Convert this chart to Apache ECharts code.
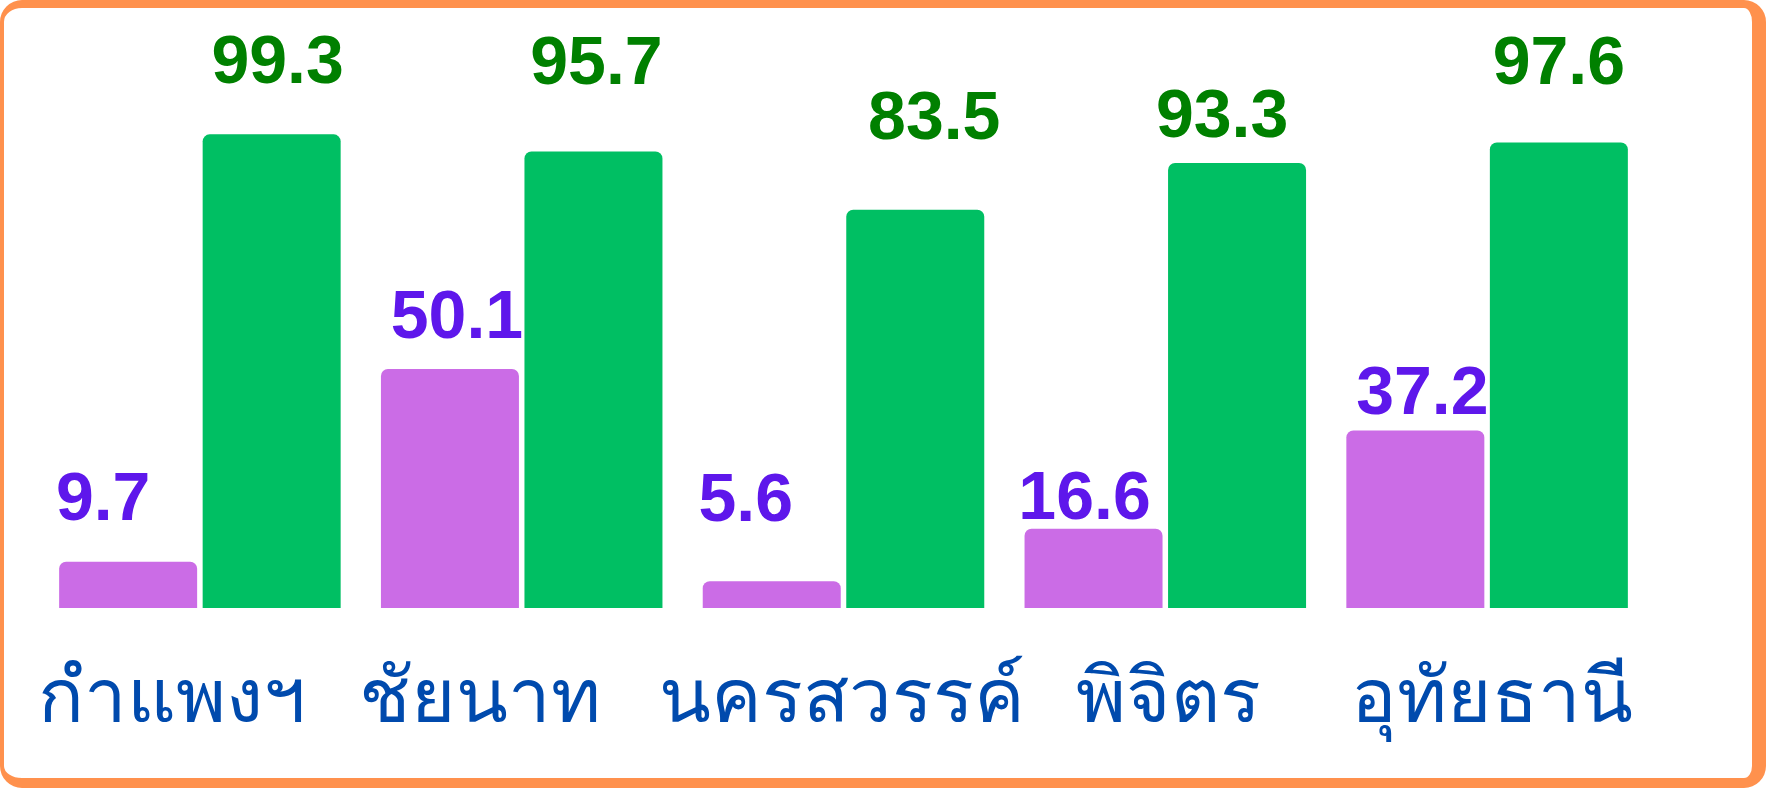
<!DOCTYPE html>
<html>
<head>
<meta charset="utf-8">
<script src="https://cdn.jsdelivr.net/npm/echarts@6/dist/echarts.min.js"></script>
<style>
  html, body { margin: 0; padding: 0; background: #fff; }
  #frame {
    position: absolute; left: 0; top: 0;
    width: 1766px; height: 788px;
    box-sizing: border-box;
    border-style: solid;
    border-color: #FF914D;
    border-width: 8px 14px 10px 4px;
    border-radius: 22px;
    background: #fff;
  }
  #chart { position: absolute; left: 0; top: 0; width: 1766px; height: 788px; }
</style>
</head>
<body>
<div id="frame"></div>
<div id="chart"></div>
<script>
const provinces = ['กำแพงฯ', 'ชัยนาท', 'นครสวรรค์', 'พิจิตร', 'อุทัยธานี']
const purpleValues = [9.7, 50.1, 5.6, 16.6, 37.2]
const greenValues = [99.3, 95.7, 83.5, 93.3, 97.6]

// label nudges (px) to follow the hand-placed labels of the original
const purpleLabelShift = [[-25, -26], [7, -16], [-26, -45], [-9, 5], [7, -1]]
const greenLabelShift = [[6, -36], [3, -52], [19, -55], [-15, -11], [0, -43]]
const provinceShift = [-28, -42, -2, 3, 5]

const chart = echarts.init(document.getElementById('chart'))

function withLabels(values, shifts) {
  return values.map((v, i) => ({
    value: v,
    label: { offset: shifts[i] }
  }))
}

const labelFont = {
  show: true,
  position: 'top',
  distance: 0,
  fontFamily: 'Liberation Sans',
  fontWeight: 'bold',
  fontSize: 68
}

const option = {
  animation: false,
  grid: { left: 39, right: 118, top: 131, bottom: 180, containLabel: false },
  xAxis: {
    type: 'category',
    data: provinces.map((p, i) => {
      const s = provinceShift[i]
      return {
        value: p,
        textStyle: { padding: s < 0 ? [0, -2 * s, 0, 0] : [0, 0, 0, 2 * s] }
      }
    }),
    axisLine: { show: false },
    axisTick: { show: false },
    axisLabel: {
      interval: 0,
      hideOverlap: false,
      color: '#004AAD',
      fontSize: 76,
      margin: 54,
      fontFamily: 'Noto Sans'
    }
  },
  yAxis: {
    type: 'value',
    min: 0,
    max: 100,
    show: false,
    splitLine: { show: false }
  },
  series: [
    {
      type: 'bar',
      data: withLabels(purpleValues, purpleLabelShift),
      barWidth: 138,
      barGap: '4%',
      itemStyle: { color: '#CB6CE6', borderRadius: [7, 7, 0, 0] },
      label: Object.assign({ color: '#5E17EB' }, labelFont)
    },
    {
      type: 'bar',
      data: withLabels(greenValues, greenLabelShift),
      barWidth: 138,
      barGap: '4%',
      itemStyle: { color: '#00BF63', borderRadius: [7, 7, 0, 0] },
      label: Object.assign({ color: '#008000' }, labelFont)
    }
  ]
}
chart.setOption(option)

window.addEventListener('resize', () => chart.resize())
</script>
</body>
</html>
